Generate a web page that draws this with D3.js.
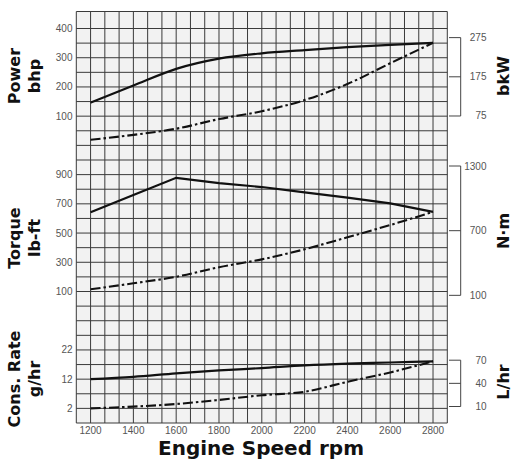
<!DOCTYPE html>
<html>
<head>
<meta charset="utf-8">
<script src="https://cdnjs.cloudflare.com/ajax/libs/d3/7.8.5/d3.min.js"></script>
<style>
body { margin: 0; background: #fff; }
.tick-label { font-family: 'Liberation Sans', Arial, sans-serif; font-size: 10px; fill: #555; }
.x-label { font-family: 'Liberation Sans Narrow', 'Liberation Sans', sans-serif; font-size: 10px; fill: #555; }
.unit { font-family: 'DejaVu Sans', sans-serif; font-weight: bold; font-size: 16px; fill: #111; }
</style>
</head>
<body>
<script>
const width = 515
const height = 464
const plot = { left: 76.3, right: 447.3, top: 11.5, bottom: 423 }

// engine speed, rpm
const rpm = [1200, 1400, 1600, 1800, 2000, 2200, 2400, 2600, 2800]

// power, bhp
const powerFull = [146, 205, 262, 297, 315, 326, 336, 344, 351]
const powerProp = [19, 36, 57, 90, 117, 155, 210, 281, 351]

// torque, lb-ft
const torqueFull = [642, 760, 878, 842, 815, 779, 743, 703, 645]
const torqueProp = [115, 156, 201, 266, 320, 389, 471, 555, 645]

// consumption, gal/hr
const fuelFull = [12, 12.8, 14.0, 15.0, 15.8, 16.7, 17.3, 17.7, 18.1]
const fuelProp = [2.0, 2.6, 3.5, 4.9, 6.5, 7.7, 11.1, 14.3, 18.1]

const xTicks = [1200, 1400, 1600, 1800, 2000, 2200, 2400, 2600, 2800]
const powerTicks = [100, 200, 300, 400]
const torqueTicks = [100, 300, 500, 700, 900]
const fuelTicks = [2, 12, 22]
const kwTicks = [75, 175, 275]
const nmTicks = [100, 700, 1300]
const lhrTicks = [10, 40, 70]

const BHP_TO_KW = 0.7457
const LBFT_TO_NM = 1.3558
const GAL_TO_L = 3.785

const xScale = d3.scaleLinear()
	.domain([1133.33, 2866.67])
	.range([plot.left, plot.right])

// the grid rows shared by the three panels
const rowScale = d3.scaleLinear()
	.domain([0, 27])
	.range([28.5, plot.bottom])

const powerY = d3.scaleLinear().domain([0, 400]).range([rowScale(8), rowScale(0)])
const kwY = d3.scaleLinear().domain([0, 400 * BHP_TO_KW]).range([rowScale(8), rowScale(0)])
const torqueY = d3.scaleLinear().domain([100, 900]).range([rowScale(18), rowScale(10)])
const nmY = d3.scaleLinear().domain([100 * LBFT_TO_NM, 900 * LBFT_TO_NM]).range([rowScale(18), rowScale(10)])
const fuelY = d3.scaleLinear().domain([2, 22]).range([rowScale(26), rowScale(22)])
const lhrY = d3.scaleLinear().domain([2 * GAL_TO_L, 22 * GAL_TO_L]).range([rowScale(26), rowScale(22)])

const svg = d3.select('body')
	.append('svg')
	.attr('width', width)
	.attr('height', height)

// grid
svg.append('rect')
	.attr('x', plot.left)
	.attr('y', plot.top)
	.attr('width', plot.right - plot.left)
	.attr('height', plot.bottom - plot.top)
	.attr('fill', '#f2f2f2')

const grid = svg.append('g')
	.attr('stroke', '#3a3a3a')
	.attr('stroke-width', 1)

grid.selectAll('.vline')
	.data(d3.range(27).map(i => 1133.33 + i * 200 / 3))
	.enter()
	.append('line')
	.attr('x1', d => xScale(d))
	.attr('x2', d => xScale(d))
	.attr('y1', plot.top)
	.attr('y2', plot.bottom)

grid.selectAll('.hline')
	.data(d3.range(28))
	.enter()
	.append('line')
	.attr('x1', plot.left)
	.attr('x2', plot.right)
	.attr('y1', d => rowScale(d))
	.attr('y2', d => rowScale(d))

grid.append('line')
	.attr('x1', plot.left)
	.attr('x2', plot.right)
	.attr('y1', plot.top)
	.attr('y2', plot.top)

// curves
const lineMaker = (yScale, curve) => d3.line()
	.x((d, i) => xScale(rpm[i]))
	.y(d => yScale(d))
	.curve(curve)

const curves = [
	{ values: powerFull, y: powerY, full: true, curve: d3.curveMonotoneX },
	{ values: powerProp, y: powerY, full: false, curve: d3.curveMonotoneX },
	{ values: torqueFull, y: torqueY, full: true, curve: d3.curveLinear },
	{ values: torqueProp, y: torqueY, full: false, curve: d3.curveMonotoneX },
	{ values: fuelFull, y: fuelY, full: true, curve: d3.curveMonotoneX },
	{ values: fuelProp, y: fuelY, full: false, curve: d3.curveMonotoneX }
]

svg.selectAll('.curve')
	.data(curves)
	.enter()
	.append('path')
	.attr('d', c => lineMaker(c.y, c.curve)(c.values))
	.attr('fill', 'none')
	.attr('stroke', '#111')
	.attr('stroke-width', c => c.full ? 2.2 : 2.1)
	.attr('stroke-dasharray', c => c.full ? null : '10,3,2.5,3')

// left tick labels
const leftAxes = [
	{ ticks: powerTicks, y: powerY },
	{ ticks: torqueTicks, y: torqueY },
	{ ticks: fuelTicks, y: fuelY }
]

leftAxes.forEach(a => {
	svg.append('g')
		.selectAll('text')
		.data(a.ticks)
		.enter()
		.append('text')
		.attr('class', 'tick-label')
		.attr('x', 72.5)
		.attr('y', d => a.y(d))
		.attr('dy', '0.35em')
		.attr('text-anchor', 'end')
		.text(d => d)
})

// bottom tick labels
svg.append('g')
	.selectAll('text')
	.data(xTicks)
	.enter()
	.append('text')
	.attr('class', 'x-label')
	.attr('x', d => xScale(d))
	.attr('y', 434)
	.attr('text-anchor', 'middle')
	.text(d => d)

// right bracket axes in metric units
const rightAxes = [
	{ ticks: kwTicks, y: kwY },
	{ ticks: nmTicks, y: nmY },
	{ ticks: lhrTicks, y: lhrY }
]

const bracketX = 460.7

rightAxes.forEach(a => {
	const g = svg.append('g')
	const ys = a.ticks.map(a.y)
	g.append('line')
		.attr('x1', bracketX)
		.attr('x2', bracketX)
		.attr('y1', d3.min(ys))
		.attr('y2', d3.max(ys))
		.attr('stroke', '#444')
		.attr('stroke-width', 1)
	g.selectAll('.tick')
		.data(a.ticks)
		.enter()
		.append('line')
		.attr('x1', 449)
		.attr('x2', bracketX)
		.attr('y1', d => a.y(d))
		.attr('y2', d => a.y(d))
		.attr('stroke', '#444')
		.attr('stroke-width', 1)
	g.selectAll('text')
		.data(a.ticks)
		.enter()
		.append('text')
		.attr('class', 'tick-label')
		.attr('x', 486.5)
		.attr('y', d => a.y(d))
		.attr('dy', '0.35em')
		.attr('text-anchor', 'end')
		.text(d => d)
})

// unit titles
const leftTitles = [
	{ lines: ['Power', 'bhp'], cy: 76 },
	{ lines: ['Torque', 'lb-ft'], cy: 238 },
	{ lines: ['Cons. Rate', 'g/hr'], cy: 379 }
]

leftTitles.forEach(t => {
	const g = svg.append('g')
		.attr('transform', `translate(20,${t.cy}) rotate(-90)`)
	g.selectAll('text')
		.data(t.lines)
		.enter()
		.append('text')
		.attr('class', 'unit')
		.attr('x', 0)
		.attr('y', (d, i) => i * 20)
		.attr('text-anchor', 'middle')
		.text(d => d)
})

const rightTitles = [
	{ text: 'bkW', cy: 76 },
	{ text: 'N·m', cy: 231 },
	{ text: 'L/hr', cy: 382 }
]

svg.selectAll('.right-title')
	.data(rightTitles)
	.enter()
	.append('text')
	.attr('class', 'unit')
	.attr('transform', d => `translate(509,${d.cy}) rotate(-90)`)
	.attr('text-anchor', 'middle')
	.text(d => d.text)

svg.append('text')
	.attr('x', 261)
	.attr('y', 454.5)
	.attr('text-anchor', 'middle')
	.style('font-family', "'DejaVu Sans', sans-serif")
	.style('font-weight', 'bold')
	.style('font-size', '20px')
	.style('fill', '#111')
	.text('Engine Speed rpm')
</script>
</body>
</html>
